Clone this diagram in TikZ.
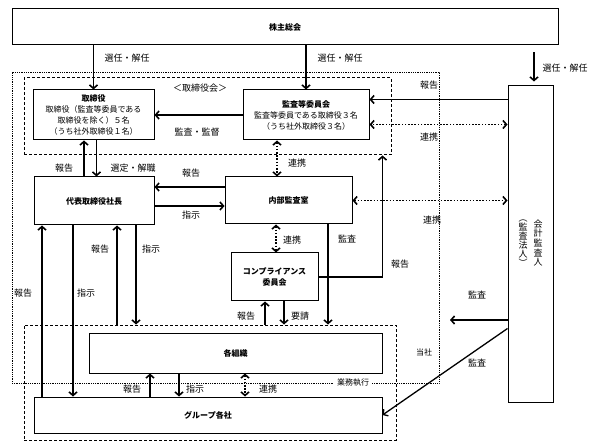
\documentclass[tikz,border=0pt]{standalone}
\usepackage{fontspec}
\setmainfont{Noto Sans CJK JP}
\usepackage{tikz}
\usetikzlibrary{arrows.meta}

\tikzset{
  box/.style={draw, line width=1pt, inner sep=0pt, align=center, font=\fontsize{8}{11}\selectfont},
  lbl/.style={inner sep=1pt, font=\fontsize{9}{10}\selectfont},
  arr/.style={line width=1.6pt, -{Straight Barb[length=3.5pt,width=8pt]}},
  dotarr/.style={line width=1.6pt, dash pattern=on 1.6pt off 1.6pt, {Straight Barb[length=3.5pt,width=8pt]}-{Straight Barb[length=3.5pt,width=8pt]}},
  dotframe/.style={draw, densely dotted, line width=0.8pt, inner sep=0pt},
  dashframe/.style={draw, dash pattern=on 3pt off 2pt, line width=1pt, inner sep=0pt}
}

\begin{document}
\begin{tikzpicture}[x=1pt, y=-1pt]
            \useasboundingbox (0,0) rectangle (591,443);
            \node[dotframe, minimum width=427pt, minimum height=311pt] (company) at (225.5,227.5) {};
            \node[dashframe, minimum width=367pt, minimum height=77pt] (bframe) at (207.5,116.5) {};
            \node[dashframe, minimum width=372pt, minimum height=115pt] (gframe) at (210,382.5) {};
            \node[box, minimum width=546pt, minimum height=36pt] (share) at (285,27) {\bfseries 株主総会};
            \node[box, minimum width=121pt, minimum height=50pt] (board) at (93.5,115)
              {{\bfseries 取締役}\\取締役（監査等委員である\\取締役を除く）５名\\（うち社外取締役１名）};
            \node[box, minimum width=126pt, minimum height=50pt] (acomm) at (306,115)
              {{\bfseries 監査等委員会}\\監査等委員である取締役３名\\（うち社外取締役３名）};
            \node[box, minimum width=45pt, minimum height=316pt] (auditor) at (530.5,244) {};
            \node[box, minimum width=120pt, minimum height=48pt] (pres) at (94,201) {\bfseries 代表取締役社長};
            \node[box, minimum width=127pt, minimum height=47pt] (iaud) at (288.5,200.5) {\bfseries 内部監査室};
            \node[box, minimum width=87pt, minimum height=48pt] (comp) at (274.5,277)
              {\bfseries コンプライアンス\\\bfseries 委員会};
            \node[box, minimum width=293pt, minimum height=40pt] (org) at (235.5,353) {\bfseries 各組織};
            \node[box, minimum width=348pt, minimum height=36pt] (group) at (208,415) {\bfseries グループ各社};
            \node[align=center, inner sep=0pt, font=\fontsize{9}{9.6}\selectfont] (audname) at (538,243) {会\\計\\監\\査\\人};
            \node[align=center, inner sep=0pt, font=\fontsize{9}{7.6}\selectfont] (audsub) at (523,243) {︵\\監\\査\\法\\人\\︶};
            \draw [arr] (share.south -| board.north) -- (board.north);
            \draw [arr] (share.south -| acomm.north) -- (acomm.north);
            \draw [arr] ([xshift=3.5pt,yshift=33pt]auditor.north) -- ([xshift=3.5pt,yshift=4pt]auditor.north);
            \draw [arr] (acomm.west) -- (board.east);
            \draw [arr] ([xshift=-10pt]pres.north) -- ([xshift=-10pt]pres.north |- board.south);
            \draw [arr] ([xshift=3pt]board.south) -- ([xshift=3pt]board.south |- pres.north);
            \draw [arr] ([yshift=13.5pt]iaud.west) -- ([yshift=13.5pt]iaud.west -| pres.east);
            \draw [arr] ([yshift=-5pt]pres.east) -- ([yshift=-5pt]pres.east -| iaud.west);
            \draw [dotarr] ([xshift=-29pt]acomm.south) -- ([xshift=-29pt]acomm.south |- iaud.north);
            \draw [dotarr] ([xshift=-12.5pt]iaud.south) -- ([xshift=-12.5pt]iaud.south |- comp.north);
            \draw [arr] ([xshift=39.5pt]iaud.south) -- ([xshift=39.5pt]iaud.south |- gframe.north);
            \draw [arr] (comp.east) -| ([xshift=-9pt]bframe.south east);
            \draw [arr] ([xshift=-9.5pt]comp.south |- gframe.north) -- ([xshift=-9.5pt]comp.south);
            \draw [arr] ([xshift=9.5pt]comp.south) -- ([xshift=9.5pt]comp.south |- gframe.north);
            \draw [arr] ([xshift=-52pt]pres.south |- group.north) -- ([xshift=-52pt]pres.south);
            \draw [arr] ([xshift=-21pt]pres.south) -- ([xshift=-21pt]pres.south |- group.north);
            \draw [arr] ([xshift=23pt]pres.south |- gframe.north) -- ([xshift=23pt]pres.south);
            \draw [arr] ([xshift=42pt]pres.south) -- ([xshift=42pt]pres.south |- gframe.north);
            \draw [arr] ([xshift=-85.5pt]org.south |- group.north) -- ([xshift=-85.5pt]org.south);
            \draw [arr] ([xshift=-56.5pt]org.south) -- ([xshift=-56.5pt]org.south |- group.north);
            \draw [dotarr] ([xshift=9.5pt]org.south) -- ([xshift=9.5pt]org.south |- group.north);
            \draw [arr] ([yshift=-14pt]auditor.north west) -- ([yshift=-14pt]auditor.north west -| acomm.east);
            \draw [dotarr] ([yshift=-39pt]auditor.north west) -- ([yshift=-39pt]auditor.north west -| acomm.east);
            \draw [dotarr] (iaud.east) -- (iaud.east -| auditor.west);
            \coordinate (audend) at (450,320);
            \draw [arr] (audend -| auditor.west) -- (audend);
            \draw [line width=1.3pt, -{Straight Barb[length=3.5pt,width=8pt]}] ([yshift=-243pt]auditor.north west) -- (group.east);
            \node[lbl] (l1) at (127,58) {選任・解任};
            \node[lbl] (l2) at (340,58) {選任・解任};
            \node[lbl] (l3) at (565,68) {選任・解任};
            \node[lbl] (l4) at (200,88) {＜取締役会＞};
            \node[lbl] (l5) at (197,132) {監査・監督};
            \node[lbl] (l6) at (64,168) {報告};
            \node[lbl] (l7) at (133,168) {選定・解職};
            \node[lbl] (l8) at (191,173) {報告};
            \node[lbl] (l9) at (191,215) {指示};
            \node[lbl] (l10) at (297,163) {連携};
            \node[lbl] (l11) at (292,240) {連携};
            \node[lbl] (l12) at (347,239) {監査};
            \node[lbl] (l13) at (400,264) {報告};
            \node[lbl] (l14) at (246,316) {報告};
            \node[lbl] (l15) at (300,316) {要請};
            \node[lbl] (l16) at (23,293) {報告};
            \node[lbl] (l17) at (86,293) {指示};
            \node[lbl] (l18) at (100,249) {報告};
            \node[lbl] (l19) at (151,249) {指示};
            \node[lbl] (l20) at (132,389) {報告};
            \node[lbl] (l21) at (195,389) {指示};
            \node[lbl] (l22) at (268,389) {連携};
            \node[lbl] (l23) at (429,85) {報告};
            \node[lbl] (l24) at (429,137) {連携};
            \node[lbl] (l25) at (432,220) {連携};
            \node[lbl] (l26) at (477,295) {監査};
            \node[lbl] (l27) at (477,363) {監査};
            \node[lbl, font=\fontsize{8}{9}\selectfont] (l28) at (424,352) {当社};
            \node[lbl, fill=white, inner sep=3pt, font=\fontsize{8}{9}\selectfont] (l29) at (353,383) {業務執行};
\end{tikzpicture}
\end{document}
